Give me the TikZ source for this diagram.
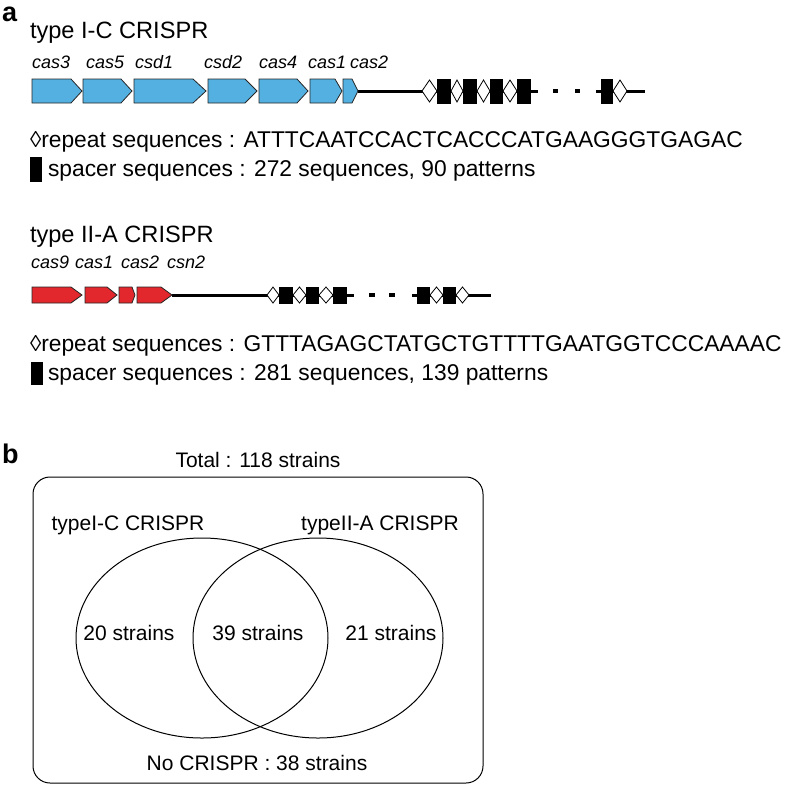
\documentclass[tikz,border=0pt]{standalone}
\usepackage{fontspec}
\setmainfont{Liberation Sans}
\usetikzlibrary{positioning}

\definecolor{casblue}{RGB}{84,176,224}
\definecolor{casred}{RGB}{226,40,44}

% gene arrow: start, tip start, tip, centre y, half height, colour
\newcommand{\casgene}[6]{%
  \draw[genebox,fill=#6] (#1,#4-#5) -- (#2,#4-#5) -- (#3,#4) -- (#2,#4+#5) -- (#1,#4+#5) -- cycle;}

\begin{document}
\begin{tikzpicture}[x=1pt,y=-1pt,
    every node/.style={inner sep=0pt,outer sep=0pt},
    panel/.style={font=\fontsize{27}{30}\selectfont\bfseries,anchor=base west},
    title/.style={font=\fontsize{23.6}{26}\selectfont,anchor=base west},
    casname/.style={font=\fontsize{18}{20}\selectfont\itshape,anchor=base west},
    seqtxt/.style={font=\fontsize{22.8}{24}\selectfont,anchor=base west},
    venntxt/.style={font=\fontsize{21}{24}\selectfont,anchor=base},
    genebox/.style={draw=black!85,line width=0.8pt},
    backbone/.style={line width=3pt},
    rptbox/.style={draw=black,fill=white,line width=0.8pt}]

  \useasboundingbox (0,0) rectangle (786,785);

  % ---- panel a ----
  \node[panel] (pa) at (2,21) {a};
  \node[title] (t1) at (30,38) {type I-C CRISPR};

  \node[casname] (n3) at (32,68) {cas3};
  \node[casname] (n5) at (86,68) {cas5};
  \node[casname] (nd1) at (135,68) {csd1};
  \node[casname] (nd2) at (204,68) {csd2};
  \node[casname] (n4) at (259,68) {cas4};
  \node[casname] (n1) at (308,68) {cas1};
  \node[casname] (n2) at (350,68) {cas2};

  \coordinate (b1s) at (358,91);
  \coordinate (b1e) at (538,91);
  \coordinate (b1t) at (596,91);
  \coordinate (b1f) at (645,91);
  \draw[backbone] (b1s) -- (b1e);
  \draw[backbone] (b1t) -- (b1f);

  \casgene{32}{71}{82}{91}{12}{casblue}
  \casgene{83}{121}{132}{91}{12}{casblue}
  \casgene{134}{193}{206}{91}{12}{casblue}
  \casgene{208}{245}{257}{91}{12}{casblue}
  \casgene{259}{297}{308}{91}{12}{casblue}
  \casgene{310}{335}{342}{91}{12}{casblue}
  \casgene{343}{352}{358}{91}{12}{casblue}

  \foreach \xa/\xb in {437/451,463/477,490/503,517/531,601/613}
    \fill (\xa,78.5) rectangle (\xb,103.5);
  \foreach \xa/\xb in {422/437,451/463,477/490,503/517,613/627}
    \draw[rptbox] (\xa,91) -- ({(\xa+\xb)/2},80) -- (\xb,91) -- ({(\xa+\xb)/2},102) -- cycle;
  \foreach \xa/\xb in {553/558,575/580}
    \fill (\xa,89) rectangle (\xb,93);

  \node[seqtxt] (r1) at (30,147) {◊repeat sequences : ATTTCAATCCACTCACCCATGAAGGGTGAGAC};
  \node[fill=black,minimum width=12pt,minimum height=25pt,anchor=north west] (s1bar) at (30,157) {};
  \node[seqtxt] (s1) at (48,176) {spacer sequences : 272 sequences, 90 patterns};

  \node[title] (t2) at (30,242) {type II-A CRISPR};

  \node[casname] (m9) at (31,268) {cas9};
  \node[casname] (m1) at (75,268) {cas1};
  \node[casname] (m2) at (121,268) {cas2};
  \node[casname] (mn2) at (167,268) {csn2};

  \coordinate (b2s) at (172,295);
  \coordinate (b2e) at (354,295);
  \coordinate (b2t) at (412,295);
  \coordinate (b2f) at (491,295);
  \draw[backbone] (b2s) -- (b2e);
  \draw[backbone] (b2t) -- (b2f);

  \casgene{32}{71}{82}{295}{8}{casred}
  \casgene{85}{107}{117}{295}{8}{casred}
  \casgene{119}{132}{135}{295}{8}{casred}
  \casgene{137}{161}{172}{295}{8}{casred}

  \foreach \xa/\xb in {279/293,306/319,333/347,417/430,443/456}
    \fill (\xa,286.5) rectangle (\xb,303.5);
  \foreach \xa/\xb in {267/279,293/306,319/333,430/443,456/469}
    \draw[rptbox] (\xa,295) -- ({(\xa+\xb)/2},287) -- (\xb,295) -- ({(\xa+\xb)/2},303) -- cycle;
  \foreach \xa/\xb in {369/375,389/395}
    \fill (\xa,293) rectangle (\xb,297);

  \node[seqtxt] (r2) at (30,351) {◊repeat sequences : GTTTAGAGCTATGCTGTTTTGAATGGTCCCAAAAC};
  \node[fill=black,minimum width=12pt,minimum height=23pt,anchor=north west] (s2bar) at (31,362) {};
  \node[seqtxt] (s2) at (48,380) {spacer sequences : 281 sequences, 139 patterns};

  % ---- panel b ----
  \node[panel] (pb) at (2,463) {b};
  \node[venntxt] (total) at (258,467) {Total : 118 strains};
  \draw[line width=1pt,rounded corners=17pt] (33,477) rectangle (483,783);

  \draw[line width=1pt] (202,638) ellipse [x radius=126pt,y radius=100pt];
  \draw[line width=1pt] (318,638) ellipse [x radius=125pt,y radius=100pt];

  \node[venntxt] (lab1) at (128,530) {typeI-C CRISPR};
  \node[venntxt] (lab2) at (380,530) {typeII-A CRISPR};
  \node[venntxt] (only1) at (129,640) {20 strains};
  \node[venntxt] (both) at (258,640) {39 strains};
  \node[venntxt] (only2) at (391,640) {21 strains};
  \node[venntxt] (none) at (257,770) {No CRISPR : 38 strains};
\end{tikzpicture}
\end{document}
